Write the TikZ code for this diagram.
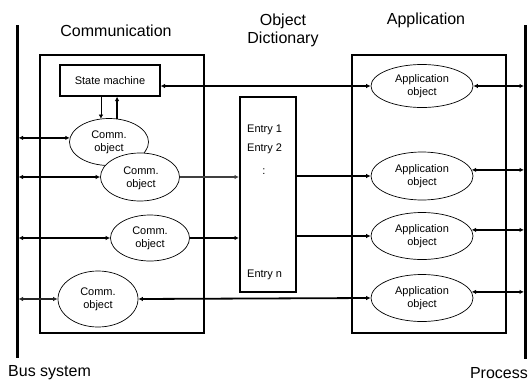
\documentclass[tikz,border=0pt]{standalone}
\usepackage{fontspec}
\setmainfont{Liberation Sans}
\usetikzlibrary{arrows.meta,shapes.geometric}
\begin{document}
\begin{tikzpicture}[x=1pt,y=-1pt,
  box/.style={draw, line width=1.1pt},
  obj/.style={draw, ellipse, line width=0.7pt, inner sep=0pt, fill=white},
  lbl/.style={font=\fontsize{11}{13}\selectfont, align=center, inner sep=0pt},
  entry/.style={font=\fontsize{11}{13}\selectfont, anchor=west, inner sep=0pt},
  ttl/.style={font=\fontsize{16}{19}\selectfont, align=center, inner sep=0pt},
  bar/.style={line width=3pt},
  conn/.style={line width=1.8pt, -{Latex[length=4.5pt,width=4.5pt]}},
  bconn/.style={line width=1.8pt, {Latex[length=4.5pt,width=4.5pt]}-{Latex[length=4.5pt,width=4.5pt]}},
  dconn/.style={line width=0.6pt, double, double distance=1pt},
]
\useasboundingbox (0,0) rectangle (528,381);

% bus and process lines
\coordinate (busT) at (17,25);
\coordinate (busB) at (17,358);
\coordinate (prT) at (525.5,25);
\coordinate (prB) at (525.5,359);
\draw[bar] (busT) -- (busB);
\draw[bar] (prT) -- (prB);

% frames
\node[box, minimum width=164pt, minimum height=278pt, inner sep=0pt] (comm) at (122,194) {};
\node[box, minimum width=154pt, minimum height=278pt, inner sep=0pt] (app) at (429,194) {};
\node[draw, line width=2pt, minimum width=56pt, minimum height=195pt, inner sep=0pt] (od) at (268,194.5) {};
\node[box, minimum width=100pt, minimum height=31pt, inner sep=0pt, font=\fontsize{11}{13}\selectfont] (sm) at (110,80.5) {State machine};

% objects
\node[obj, minimum width=79pt, minimum height=47pt] (c1) at (109,142) {};
\node[obj, minimum width=79pt, minimum height=48pt] (c2) at (140,177) {};
\node[obj, minimum width=79pt, minimum height=46pt] (c3) at (150,238) {};
\node[obj, minimum width=80pt, minimum height=56pt] (c4) at (98,299) {};
\node[obj, minimum width=102pt, minimum height=43pt] (a1) at (422,86) {};
\node[obj, minimum width=102pt, minimum height=48pt] (a2) at (422,176) {};
\node[obj, minimum width=102pt, minimum height=47pt] (a3) at (422,236) {};
\node[obj, minimum width=102pt, minimum height=47pt] (a4) at (422,298) {};

\node[lbl] (tc1) at (c1) {Comm.\\object};
\node[lbl] (tc2) at (141,178) {Comm.\\object};
\node[lbl] (tc3) at (c3) {Comm.\\object};
\node[lbl] (tc4) at (c4) {Comm.\\object};
\node[lbl] (ta1) at (a1) {Application\\object};
\node[lbl] (ta2) at (a2) {Application\\object};
\node[lbl] (ta3) at (a3) {Application\\object};
\node[lbl] (ta4) at (a4) {Application\\object};

% entries
\node[entry] (e1) at (247,130) {Entry 1};
\node[entry] (e2) at (247,149) {Entry 2};
\node[lbl] (e3) at (264,172) {:};
\node[entry] (en) at (247,275) {Entry n};

% titles
\node[ttl] (tcomm) at (116,31) {Communication};
\node[ttl] (tod) at (283,30) {Object\\[-1pt]Dictionary};
\node[ttl] (tapp) at (426,20) {Application};
\node[ttl, anchor=west] (tbus) at (8,373) {Bus system};
\node[ttl, anchor=east] (tpr) at (528,373) {Process};

% state machine <-> comm object 1
\draw[dconn, -{Latex[length=4pt,width=4.5pt]}] (sm.south -| c1.109) -- (c1.109);
\draw[conn] (c1.71) -- (sm.south -| c1.71);

% bus connections
\draw[bconn] (busT |- c1.174) ++(1.5pt,0) -- (c1.174);
\draw[bconn] (busT |- c2.west) ++(1.5pt,0) -- (c2.west);
\draw[bconn] (busT |- c3.west) ++(1.5pt,0) -- (c3.west);
\draw[bconn, draw=black!85] (busT |- c4.west) ++(1.5pt,0) -- (c4.west);

% comm objects -> OD
\draw[conn, draw=black!75] (c2.east) -- (od.west |- c2.east);
\draw[conn] (c3.east) -- (od.west |- c3.east);

% OD -> application objects
\draw[conn] (od.east |- a2.west) -- (a2.west);
\draw[conn] (od.east |- a3.west) -- (a3.west);

% state machine <-> app object 1
\draw[bconn] (sm.east |- a1.west) -- (a1.west);
% comm object 4 <-> app object 4
\draw[bconn] (c4.east) -- (a4.west);

% application objects <-> process
\draw[bconn, shorten >=1.5pt] (a1.east) -- (a1.east -| prT);
\draw[bconn, shorten >=1.5pt] (a2.7) -- (a2.7 -| prT);
\draw[bconn, shorten >=1.5pt] (a3.7) -- (a3.7 -| prT);
\draw[bconn, shorten >=1.5pt] (a4.7) -- (a4.7 -| prT);
\end{tikzpicture}
\end{document}
